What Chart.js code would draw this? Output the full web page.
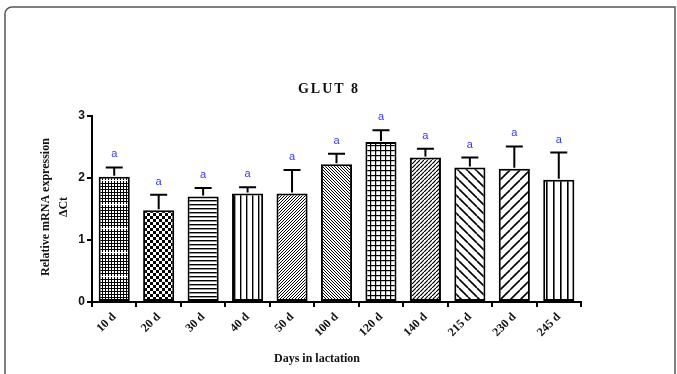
<!DOCTYPE html>
<html>
<head>
<meta charset="utf-8">
<script src="https://cdn.jsdelivr.net/npm/chart.js@4/dist/chart.umd.min.js"></script>
<style>
  html, body { margin: 0; padding: 0; background: #fff; }
  #wrap { width: 677px; height: 374px; }
</style>
</head>
<body>
<div id="wrap"><canvas id="myChart" width="677" height="374"></canvas></div>
<script>
// data
const days = ['10 d', '20 d', '30 d', '40 d', '50 d', '100 d', '120 d', '140 d', '215 d', '230 d', '245 d'];
const meanExpr = [2.02, 1.48, 1.70, 1.75, 1.75, 2.22, 2.58, 2.33, 2.17, 2.15, 1.97];
const errUp = [0.15, 0.25, 0.14, 0.10, 0.38, 0.17, 0.19, 0.14, 0.16, 0.36, 0.44];
const letters = ['a', 'a', 'a', 'a', 'a', 'a', 'a', 'a', 'a', 'a', 'a'];
const yTicks = [0, 1, 2, 3];

// small tile -> canvas pattern
function tile(w, h, draw) {
    const c = document.createElement('canvas');
    c.width = w; c.height = h;
    const g = c.getContext('2d');
    g.fillStyle = '#fff';
    g.fillRect(0, 0, w, h);
    g.fillStyle = '#000';
    g.strokeStyle = '#000';
    draw(g, w, h);
    return document.createElement('canvas').getContext('2d').createPattern(c, 'repeat');
}
function diag(g, w, h, lw, back) {
    g.lineWidth = lw;
    g.beginPath();
    for (let k = -1; k <= 1; k++) {
        if (back) { g.moveTo(k * w, 0); g.lineTo(k * w + w, h); }
        else { g.moveTo(k * w, h); g.lineTo(k * w + w, 0); }
    }
    g.stroke();
}

const patterns = [
    tile(3, 24, (g) => {
        for (let y = 0; y < 24; y += 3) g.fillRect(0, y, 3, 1);
        g.fillRect(0, 0, 1, 24);
        g.fillStyle = '#fff'; g.fillRect(0, 12, 3, 1); }),
    tile(6, 6, (g) => { g.fillRect(0, 0, 3, 3); g.fillRect(3, 3, 3, 3); }),
    tile(4, 4, (g) => { g.fillRect(0, 0, 4, 1.4); }),
    tile(6, 4, (g) => { g.fillRect(0, 0, 1.4, 4); }),
    tile(3, 3, (g) => diag(g, 3, 3, 1, false)),
    tile(3, 3, (g) => diag(g, 3, 3, 1, true)),
    tile(5, 5, (g) => { g.fillRect(0, 0, 5, 1.2); g.fillRect(0, 0, 1.2, 5); }),
    tile(4, 4, (g) => { diag(g, 4, 4, 1.2, false); g.fillStyle = '#fff'; g.fillRect(0, 0, 1, 1); }),
    tile(9, 9, (g) => diag(g, 9, 9, 1.6, true)),
    tile(10, 10, (g) => diag(g, 10, 10, 1.6, false)),
    tile(7, 4, (g) => { g.fillRect(0, 0, 1.6, 4); })
];

const extras = {
    id: 'extras',
    beforeDraw(chart) {
        const ctx = chart.ctx;
        ctx.save();
        ctx.strokeStyle = '#555';
        ctx.lineWidth = 1.5;
        ctx.beginPath();
        ctx.moveTo(5, 374);
        ctx.lineTo(5, 14);
        ctx.arcTo(5, 7, 12, 7, 7);
        ctx.lineTo(675, 7);
        ctx.lineTo(675, 374);
        ctx.stroke();
        ctx.restore();
    },
    afterDatasetsDraw(chart) {
        const ctx = chart.ctx;
        const x = chart.scales.x, y = chart.scales.y;
        const capHalf = 8.5;
        ctx.save();
        ctx.strokeStyle = '#000';
        ctx.lineWidth = 2;
        meanExpr.forEach((m, i) => {
            const px = x.getPixelForValue(i);
            const y0 = y.getPixelForValue(m);
            const y1 = y.getPixelForValue(m + errUp[i]);
            ctx.beginPath();
            ctx.moveTo(px, y0 - 1);
            ctx.lineTo(px, y1);
            ctx.moveTo(px - capHalf, y1);
            ctx.lineTo(px + capHalf, y1);
            ctx.stroke();
            ctx.fillStyle = '#3535ff';
            ctx.font = '11px "Liberation Sans", Arial, sans-serif';
            ctx.textAlign = 'center';
            ctx.textBaseline = 'alphabetic';
            ctx.fillText(letters[i], px, y1 - 10);
        });
        ctx.restore();
    },
    afterDraw(chart) {
        const ctx = chart.ctx;
        ctx.save();
        ctx.fillStyle = '#111';
        ctx.textAlign = 'center';
        ctx.textBaseline = 'alphabetic';
        // title
        ctx.font = 'bold 14px "Liberation Serif", "Times New Roman", serif';
        ctx.letterSpacing = '2px';
        ctx.fillText('GLUT 8', 329, 93);
        ctx.letterSpacing = '0px';
        // x axis title
        ctx.font = 'bold 12px "Liberation Serif", "Times New Roman", serif';
        ctx.fillText('Days in lactation', 317, 362);
        // y axis title
        ctx.translate(0, 207);
        ctx.rotate(-Math.PI / 2);
        ctx.font = 'bold 12px "Liberation Serif", "Times New Roman", serif';
        ctx.fillText('Relative mRNA expression', 0, 49);
        ctx.fillText('\u0394Ct', 0, 67);
        ctx.restore();
    }
};

new Chart(document.getElementById('myChart').getContext('2d'), {
    type: 'bar',
    data: {
        labels: days,
        datasets: [{
            label: 'GLUT 8',
            data: meanExpr,
            backgroundColor: patterns,
            borderColor: '#000',
            borderWidth: 2,
            borderSkipped: false,
            barPercentage: 0.7,
            categoryPercentage: 1.0
        }]
    },
    options: {
        responsive: false,
        animation: false,
        layout: { padding: { left: 52, right: 96, top: 116, bottom: 0 } },
        plugins: {
            legend: { display: false },
            title: { display: false },
            tooltip: { enabled: false }
        },
        scales: {
            x: {
                afterFit: (s) => { s.height = 72; },
                grid: { display: true, drawOnChartArea: false, drawTicks: true, tickLength: 5, color: '#000', lineWidth: 2 },
                border: { display: true, color: '#000', width: 2 },
                ticks: {
                    color: '#111',
                    minRotation: 45,
                    maxRotation: 45,
                    padding: 3,
                    font: { family: '"Liberation Serif", "Times New Roman", serif', size: 12, weight: 'bold' }
                }
            },
            y: {
                min: 0,
                max: 3,
                afterFit: (s) => { s.width = 40; },
                afterBuildTicks: (s) => { s.ticks = yTicks.map(v => ({ value: v })); },
                grid: { display: true, drawOnChartArea: false, drawTicks: true, tickLength: 5, color: '#000', lineWidth: 2 },
                border: { display: true, color: '#000', width: 2 },
                ticks: {
                    color: '#111',
                    padding: 2,
                    font: { family: '"Liberation Sans", Arial, sans-serif', size: 12, weight: 'bold' }
                }
            }
        }
    },
    plugins: [extras]
});
</script>
</body>
</html>
